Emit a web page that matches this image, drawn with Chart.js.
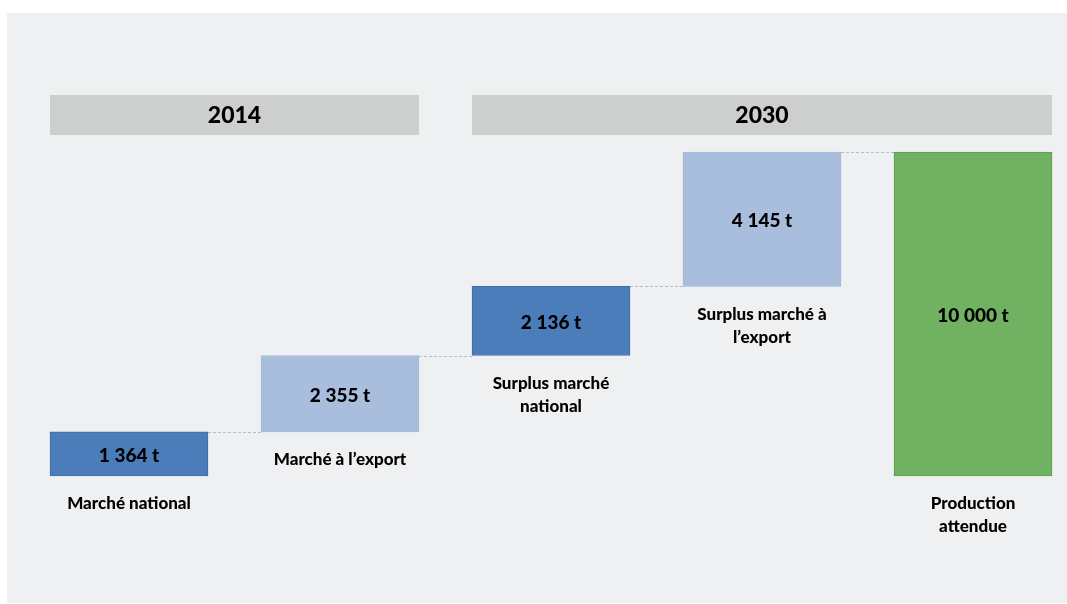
<!DOCTYPE html>
<html lang="fr">
<head>
    <meta charset="UTF-8">
    <title>Production attendue</title>
    <script src="https://cdn.jsdelivr.net/npm/chart.js"></script>
    <style>
        html, body { margin: 0; padding: 0; background: #ffffff; }
        .panel {
            position: absolute;
            left: 7px; top: 13px; right: 0; bottom: 1px;
            background: #eff0f2;
        }
        .chart-wrapper {
            position: absolute;
            left: 0; top: 0;
            width: 1067px; height: 604px;
        }
    </style>
</head>
<body>
    <div class="panel"></div>
    <div class="chart-wrapper">
        <canvas id="waterfall"></canvas>
    </div>

    <script>
        // Étapes du bilan (en tonnes)
        const categories = [
            ['Marché national'],
            ['Marché à l’export'],
            ['Surplus marché', 'national'],
            ['Surplus marché à', 'l’export'],
            ['Production', 'attendue']
        ];
        const values = [1364, 2355, 2136, 4145, 10000];
        const isTotal = [false, false, false, false, true];

        // Bandeaux d'années : premier et dernier index couverts
        const periods = ['2014', '2030'];
        const periodFirst = [0, 2];
        const periodLast = [1, 4];

        const FONT = 'Lato, "Open Sans", sans-serif';

        // Barres flottantes : cumul pour les étapes, depuis 0 pour le total
        const ranges = [];
        let running = 0;
        values.forEach((v, i) => {
            if (isTotal[i]) {
                ranges.push([0, v]);
            } else {
                ranges.push([running, running + v]);
                running += v;
            }
        });

        const fillColors = values.map((v, i) =>
            isTotal[i] ? '#70b162' : (i % 2 === 0 ? '#4a7dba' : '#a8bedc'));
        const edgeColors = values.map((v, i) =>
            isTotal[i] ? '#5f9d52' : (i % 2 === 0 ? '#3f6ca4' : '#a3badb'));

        function formatTonnes(v) {
            return String(v).replace(/\B(?=(\d{3})+(?!\d))/g, ' ') + ' t';
        }

        const waterfallDecor = {
            id: 'waterfallDecor',
            beforeDatasetsDraw(chart) {
                const ctx = chart.ctx;
                const meta = chart.getDatasetMeta(0);
                const y = chart.scales.y;
                ctx.save();

                // bandeaux 2014 / 2030
                periods.forEach((label, p) => {
                    const a = meta.data[periodFirst[p]];
                    const b = meta.data[periodLast[p]];
                    const x0 = a.x - a.width / 2;
                    const x1 = b.x + b.width / 2;
                    const top = chart.chartArea.top - 57;
                    ctx.fillStyle = '#cdcece';
                    ctx.fillRect(x0, top, x1 - x0, 40);
                    ctx.fillStyle = '#000000';
                    ctx.font = '900 23px ' + FONT;
                    ctx.textAlign = 'center';
                    ctx.textBaseline = 'middle';
                    ctx.fillText(label, (x0 + x1) / 2, top + 21);
                });

                // liaisons pointillées entre les barres
                ctx.strokeStyle = '#a8bedc';
                ctx.lineWidth = 1;
                ctx.setLineDash([3, 2]);
                for (let i = 0; i < meta.data.length - 1; i++) {
                    const cur = meta.data[i];
                    const next = meta.data[i + 1];
                    const ly = Math.round(y.getPixelForValue(ranges[i][1])) + 0.5;
                    ctx.beginPath();
                    ctx.moveTo(cur.x + cur.width / 2, ly);
                    ctx.lineTo(next.x - next.width / 2, ly);
                    ctx.stroke();
                }
                ctx.restore();
            },
            afterDatasetsDraw(chart) {
                const ctx = chart.ctx;
                const meta = chart.getDatasetMeta(0);
                const y = chart.scales.y;
                ctx.save();
                ctx.fillStyle = '#000000';
                ctx.textAlign = 'center';
                ctx.textBaseline = 'middle';

                meta.data.forEach((bar, i) => {
                    const yTop = y.getPixelForValue(ranges[i][1]);
                    const yBase = y.getPixelForValue(ranges[i][0]);

                    // valeur au centre de la barre
                    ctx.font = '900 19px ' + FONT;
                    ctx.fillText(formatTonnes(values[i]), bar.x, (yTop + yBase) / 2 + 2);

                    // libellé sous la barre
                    ctx.font = '900 17px ' + FONT;
                    categories[i].forEach((line, k) => {
                        ctx.fillText(line, bar.x, yBase + 28 + k * 23);
                    });
                });
                ctx.restore();
            }
        };

        new Chart(document.getElementById('waterfall'), {
            type: 'bar',
            data: {
                labels: categories,
                datasets: [{
                    data: ranges,
                    backgroundColor: fillColors,
                    borderColor: edgeColors,
                    borderWidth: 1,
                    borderSkipped: false,
                    barThickness: 158,
                    clip: false
                }]
            },
            options: {
                responsive: true,
                maintainAspectRatio: false,
                animation: false,
                layout: {
                    // axe x sans décalage : la zone va du centre de la 1re barre au centre de la dernière
                    padding: { left: 129, right: 94, top: 152, bottom: 128 }
                },
                plugins: {
                    legend: { display: false },
                    tooltip: { enabled: false }
                },
                scales: {
                    x: { display: false, offset: false },
                    y: { display: false, min: 0, max: 10000 }
                }
            },
            plugins: [waterfallDecor]
        });
    </script>
</body>
</html>
